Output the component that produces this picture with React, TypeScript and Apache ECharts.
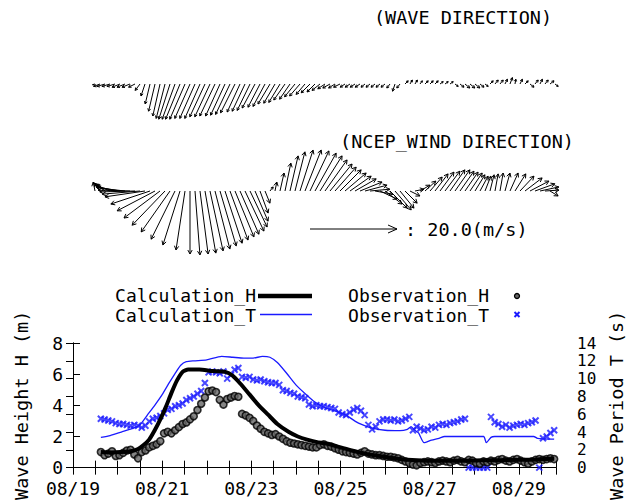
import React, { useEffect, useRef } from "react";
import * as echarts from "echarts";

const FONT = "'DejaVu Sans Mono', 'Liberation Mono', monospace";
const BLUE = "#1a1aff";

// ---- main chart axes ----
const dateLabels = ["08/19", "08/21", "08/23", "08/25", "08/27", "08/29"];
const X_MAX_HOURS = 260; // hours from 08/19 00:00
const LABEL_EVERY_HOURS = 48;

// ---- Calculation_H (m) ----
const calcHHours = [15, 20, 26, 31, 35, 38, 41, 44, 47, 50, 53, 56, 59, 62, 68, 75, 82, 86, 90, 95, 100, 105, 110, 116, 121, 126, 132, 138, 144, 150, 157, 165, 172, 180, 190, 200, 210, 220, 230, 240, 250, 259];
const calcH = [1.0, 0.98, 1.0, 1.05, 1.2, 1.45, 1.8, 2.4, 3.1, 3.9, 4.8, 5.6, 6.15, 6.3, 6.3, 6.2, 6.15, 5.9, 5.4, 4.7, 4.0, 3.4, 2.8, 2.3, 2.0, 1.8, 1.62, 1.5, 1.3, 1.1, 0.9, 0.75, 0.62, 0.5, 0.45, 0.45, 0.45, 0.47, 0.48, 0.5, 0.53, 0.57];

// ---- Calculation_T (s) ----
const calcTHours = [15, 20, 26, 32, 36, 40, 44, 48, 52, 55, 58, 61, 65, 72, 80, 86, 92, 97, 102, 106, 110, 115, 120, 125, 130, 136, 142, 147, 152, 156, 160, 168, 176, 180, 182, 184, 186, 189, 193, 197, 200, 221, 222.5, 225, 227, 248, 250, 259];
const calcT = [3.4, 3.6, 4.0, 4.4, 4.8, 5.9, 7.0, 8.2, 9.6, 10.6, 11.5, 11.9, 12.0, 12.1, 12.5, 12.4, 12.3, 12.3, 12.5, 12.4, 11.8, 10.6, 9.3, 8.3, 7.4, 6.7, 6.3, 5.9, 5.2, 4.8, 4.5, 4.2, 4.15, 4.3, 4.6, 4.2, 3.9, 2.8, 3.1, 3.3, 3.5, 3.5, 2.8, 3.4, 3.5, 3.5, 3.3, 3.2];

// ---- Observations, every 2 hours from hour 15 ----
const OBS_START_HOUR = 15;
const OBS_STEP_HOURS = 2;
const obsH = [
  1.0, 0.8, 0.9, 1.05, 0.75, 0.8, 0.95, 1.1, 1.15, 0.85,
  0.6, 1.0, 1.1, 1.3, 1.4, 1.5, 1.7, 2.2, 2.3, 2.2,
  2.4, 2.6, 2.8, 2.9, 3.1, 3.3, 3.7, 4.1, 4.5, 4.9,
  4.95, 4.85, 4.35, 4.05, 4.4, 4.5, 4.6, 4.55, 3.45, 3.35,
  3.2, 3.0, 2.7, 2.5, 2.3, 2.2, 2.1, 2.15, 2.0, 1.85,
  1.7, 1.6, 1.55, 1.5, 1.45, 1.4, 1.35, 1.3, 1.3, 1.45,
  1.5, 1.4, 1.35, 1.25, 1.15, 1.05, 1.0, 0.95, 0.9, 0.85,
  0.95, 1.05, 0.9, 0.85, 0.8, 0.8, 0.75, 0.7, 0.7, 0.65,
  0.6, 0.5, 0.4, 0.3, 0.2, 0.15, 0.3, 0.35, 0.4, 0.35,
  0.3, 0.4, 0.45, 0.4, 0.35, 0.45, 0.5, 0.4, 0.35, 0.5,
  0.45, 0.3, 0.25, 0.4, 0.35, 0.45, 0.4, 0.5, 0.55, 0.45,
  0.4, 0.5, 0.55, 0.45, 0.35, 0.25, 0.4, 0.5, 0.55, 0.5,
  0.55, 0.6, 0.55,
];
const obsT = [
  5.5, 5.4, 5.3, 5.2, 5.0, 4.9, 4.9, 4.8, 4.7, 4.8,
  4.7, 4.5, 4.7, 5.2, 5.5, 5.6, 5.8, 6.1, 6.5, 6.6,
  6.9, 7.0, 7.2, 7.6, 7.8, 8.0, 8.3, 8.6, 9.5, 10.7,
  10.8, 10.7, 10.6, 10.8, 10.0, 10.4, 11.0, 11.2, 10.2, 10.1,
  10.2, 9.9, 9.8, 9.9, 9.7, 9.6, 9.5, 9.5, 9.3, 8.7,
  8.6, 8.4, 8.3, 8.0, 7.9, 7.8, 7.1, 6.9, 7.0, 6.9,
  6.9, 6.8, 6.7, 6.6, 6.2, 6.0, 5.9, 6.2, 6.5, 6.7,
  6.4, 5.9, 4.8, 4.3, 4.6, 5.2, 5.4, 5.4, 5.3, 5.4,
  5.2, 5.3, 5.5, 5.7, 4.2, 4.6, 4.4, 4.2, 4.3, 4.6,
  4.5, 4.8, 4.9, 4.8, 5.0, 5.1, 5.2, 5.4, 5.5, 0,
  0, 0, 0, 0, 0, 5.7, 5.1, 4.9, 4.6, 4.8,
  4.5, 4.7, 4.8, 4.9, 4.8, 5.0, 5.1, 5.3, 0, 3.3,
  3.5, 3.9, 4.2,
];

// ---- wave direction vectors (east / north components, m) ----
const waveU = [
  -0.3, -0.8, -1.0, -1.0, -1.0, -1.0, -1.0, -1.0, -0.8, -0.6,
  -0.5, -0.6, -0.8, -0.9, -1.1, -1.4, -1.6, -1.8, -1.9, -1.9,
  -1.9, -1.9, -1.9, -1.9, -1.9, -1.8, -1.8, -1.8, -1.8, -1.6,
  -1.6, -1.6, -1.6, -1.5, -1.5, -1.5, -1.4, -1.4, -1.4, -1.3,
  -1.3, -1.3, -1.1, -1.1, -1.0, -1.0, -0.9, -0.9, -0.8, -0.8,
  -0.6, -0.6, -0.6, -0.6, -0.5, -0.5, -0.5, -0.5, -0.5, -0.4,
  -0.3, -0.4, 0.4, 0.3, 0.3, 0.3, 0.4, 0.4, 0.4, 0.4,
  0.4, 0.4, 0.4, 0.5, 0.6, 0.6, 0.6, 0.5, 0.4, 0.4,
  0.4, 0.4, 0.3, 0.3, 0.1, 0.3, 0.4, 0.5, 0.4, 0.3,
  0.4, 0.5, 0.4,
];
const waveV = [
  -0.1, -0.3, -0.3, -0.3, -0.3, -0.4, -0.4, -0.4, -0.4, -0.8,
  -1.5, -2.5, -3.4, -4.0, -4.3, -4.4, -4.4, -4.4, -4.4, -4.3,
  -4.3, -4.3, -4.1, -4.1, -4.0, -4.0, -3.9, -3.8, -3.6, -3.5,
  -3.4, -3.3, -3.0, -2.9, -2.8, -2.5, -2.4, -2.3, -2.0, -1.9,
  -1.6, -1.5, -1.3, -1.1, -1.0, -0.8, -0.6, -0.5, -0.5, -0.4,
  -0.4, -0.4, -0.4, -0.4, -0.4, -0.4, -0.4, -0.4, -0.4, -0.5,
  -0.9, -0.5, 0.4, 0.5, 0.5, 0.4, 0.4, 0.4, 0.4, 0.3,
  0.3, 0.3, -0.3, -0.4, -0.5, -0.5, -0.5, -0.4, -0.3, 0.4,
  0.5, 0.5, 0.6, 0.8, 0.6, 0.6, 0.4, -0.4, 0.5, 0.6,
  0.5, 0.4, -0.3,
];

// ---- NCEP wind vectors (east / north components, m/s) ----
const windU = [
  -0.4, -1.3, -2.2, -3.3, -4.2, -5.3, -6.2, -7.1, -7.8, -8.4,
  -8.9, -8.7, -8.4, -8.0, -7.3, -6.4, -5.3, -3.8, -2.0, 0.0,
  1.1, 1.8, 2.4, 2.9, 3.3, 3.6, 3.8, 4.0, 4.2, 4.2,
  4.2, 3.8, 2.9, 1.8, 1.1, 0.7, 0.4, 0.9, 1.3, 1.8,
  2.2, 2.9, 3.6, 4.2, 4.7, 4.9, 4.9, 4.9, 4.7, 4.7,
  4.7, 4.7, 4.7, 4.9, 4.9, 4.4, 4.0, 3.8, 3.8, 3.8,
  3.6, 3.1, 2.7, 2.2, 2.0, 2.2, 2.4, 2.7, 2.9, 3.1,
  3.3, 3.3, 3.3, 3.1, 2.9, 2.7, 2.2, 1.8, 1.3, 0.9,
  0.7, 0.7, 1.1, 1.8, 2.4, 3.1, 3.8, 4.2, 4.4, 4.2,
  3.1, 1.8,
];
const windV = [
  2.0, 1.8, 1.6, 1.3, 1.1, 0.9, 0.7, 0.2, -0.2, -0.7,
  -1.3, -2.9, -4.4, -6.0, -7.6, -9.1, -10.7, -12.0, -13.1, -14.0,
  -14.2, -14.0, -13.8, -13.3, -12.9, -12.2, -11.6, -10.9, -10.2, -9.6,
  -8.9, -8.0, -6.7, -4.9, -2.7, 0.9, 2.0, 4.0, 6.2, 7.8,
  8.7, 9.1, 9.1, 8.9, 8.4, 7.8, 6.9, 6.0, 5.3, 4.7,
  4.0, 3.3, 2.7, 2.0, 1.3, 0.4, -0.7, -1.8, -2.9, -3.8,
  -4.2, -3.8, -2.7, -1.1, 0.4, 1.3, 2.2, 3.1, 3.8, 4.2,
  4.4, 4.7, 4.7, 4.4, 4.2, 4.0, 3.6, 3.3, 3.3, 3.6,
  3.8, 4.0, 4.0, 4.0, 3.8, 3.3, 2.9, 2.2, 1.6, 0.9,
  0.2, -1.1,
];
const SCALE_WIND = 20.0; // m/s reference arrow

function vectorRenderer(headLen: number, width: number) {
  return (_params: any, api: any) => {
    const i = api.value(0);
    const u = api.value(1);
    const v = api.value(2);
    const base = api.coord([i, 0]);
    const unit = api.size([0, 1])[1];
    const tx = base[0] + u * unit;
    const ty = base[1] - v * unit;
    const len = Math.hypot(tx - base[0], ty - base[1]);
    const children: any[] = [
      { type: "line", shape: { x1: base[0], y1: base[1], x2: tx, y2: ty }, style: { stroke: "#000", lineWidth: width } },
    ];
    if (len > 1.5) {
      const a = Math.atan2(ty - base[1], tx - base[0]);
      const h = Math.min(headLen, len * 0.5);
      const p1 = [tx - h * Math.cos(a - 0.5), ty - h * Math.sin(a - 0.5)];
      const p2 = [tx - h * Math.cos(a + 0.5), ty - h * Math.sin(a + 0.5)];
      children.push({ type: "polyline", shape: { points: [p1, [tx, ty], p2] }, style: { stroke: "#000", fill: null, lineWidth: width } });
    }
    return { type: "group", children };
  };
}

function txt(text: string, x: number, y: number, align: string, size = 18.5, color = "#000") {
  return {
    type: "text",
    x,
    y,
    style: {
      text,
      fontSize: size,
      fontFamily: FONT,
      fill: color,
      textAlign: align,
      align,
      textVerticalAlign: "middle",
      verticalAlign: "middle",
    },
    silent: true,
  };
}

const LEGEND_ROW1 = 295;
const LEGEND_ROW2 = 315.5;

function buildOption(): any {
  const pair = (hs: number[], vs: number[]) => hs.map((h, i) => [h, vs[i]]);
  const obs = (vs: number[]) => vs.map((v, i) => [OBS_START_HOUR + i * OBS_STEP_HOURS, v]);
  const hiddenAxis = { show: false };
  const axisLine = { show: true, lineStyle: { color: "#000", width: 1 } };
  const tick = { show: true, inside: true, length: 7, lineStyle: { color: "#000", width: 1 } };
  const label = { fontFamily: FONT, fontSize: 18, color: "#000" };

  const xMain = {
    type: "value",
    min: 0,
    max: X_MAX_HOURS,
    interval: 12,
    splitLine: { show: false },
    axisLine,
    axisTick: tick,
  };

  return {
    animation: false,
    backgroundColor: "#fff",
    textStyle: { fontFamily: FONT },
    grid: [
      { left: 95, top: 44, width: 460, height: 80 },
      { left: 95, top: 146, width: 460, height: 90 },
      { left: 73, top: 343, width: 483, height: 130 },
    ],
    xAxis: [
      { gridIndex: 0, type: "value", min: 0, max: 92, ...hiddenAxis },
      { gridIndex: 1, type: "value", min: 0, max: 92, ...hiddenAxis },
      {
        ...xMain,
        gridIndex: 2,
        position: "bottom",
        axisLabel: {
          ...label,
          margin: 12,
          formatter: (v: number) => (v % LABEL_EVERY_HOURS === 0 ? dateLabels[v / LABEL_EVERY_HOURS] || "" : ""),
        },
      },
      { ...xMain, gridIndex: 2, position: "top", axisLabel: { show: false } },
    ],
    yAxis: [
      { gridIndex: 0, type: "value", min: -5, max: 5, ...hiddenAxis },
      { gridIndex: 1, type: "value", min: -10, max: 10, ...hiddenAxis },
      {
        gridIndex: 2,
        type: "value",
        min: 0,
        max: 8,
        interval: 2,
        position: "left",
        splitLine: { show: false },
        axisLine,
        axisTick: tick,
        axisLabel: { ...label, margin: 10 },
        name: "Wave Height H (m)",
        nameLocation: "middle",
        nameRotate: 90,
        nameGap: 42,
        nameTextStyle: { fontFamily: FONT, fontSize: 18.5, color: "#000" },
      },
      {
        gridIndex: 2,
        type: "value",
        min: 0,
        max: 14,
        interval: 2,
        position: "right",
        splitLine: { show: false },
        axisLine,
        axisTick: tick,
        axisLabel: { ...label, fontSize: 16, lineHeight: 16, margin: 21 },
        name: "Wave Period T (s)",
        nameLocation: "middle",
        nameRotate: 90,
        nameGap: 39,
        nameTextStyle: { fontFamily: FONT, fontSize: 18.5, color: "#000" },
      },
    ],
    series: [
      {
        name: "Wave direction",
        type: "custom",
        xAxisIndex: 0,
        yAxisIndex: 0,
        renderItem: vectorRenderer(3, 1),
        data: waveU.map((u, i) => [i, u, waveV[i]]),
        silent: true,
      },
      {
        name: "NCEP wind direction",
        type: "custom",
        xAxisIndex: 1,
        yAxisIndex: 1,
        renderItem: vectorRenderer(4.5, 1),
        data: windU.map((u, i) => [i, u, windV[i]]),
        silent: true,
      },
      {
        name: "Calculation_T",
        type: "line",
        xAxisIndex: 2,
        yAxisIndex: 3,
        showSymbol: false,
        smooth: 0.2,
        lineStyle: { color: BLUE, width: 1.3 },
        data: pair(calcTHours, calcT),
      },
      {
        name: "Observation_T",
        type: "scatter",
        xAxisIndex: 2,
        yAxisIndex: 3,
        symbol: "path://M0,0L10,10M10,0L0,10",
        symbolSize: 6,
        itemStyle: { color: "none", borderColor: BLUE, borderWidth: 2 },
        data: obs(obsT),
      },
      {
        name: "Observation_H",
        type: "scatter",
        xAxisIndex: 2,
        yAxisIndex: 2,
        symbol: "circle",
        symbolSize: 7,
        itemStyle: { color: "#666", borderColor: "#000", borderWidth: 1.6 },
        data: obs(obsH),
      },
      {
        name: "Calculation_H",
        type: "line",
        xAxisIndex: 2,
        yAxisIndex: 2,
        showSymbol: false,
        smooth: 0.2,
        lineStyle: { color: "#000", width: 4 },
        data: pair(calcHHours, calcH),
      },
    ],
    graphic: [
      txt("(WAVE DIRECTION)", 463, 17, "center"),
      txt("(NCEP_WIND DIRECTION)", 457, 141, "center"),
      { type: "line", shape: { x1: 310, y1: 229, x2: 397, y2: 229 }, style: { stroke: "#000", lineWidth: 1 }, silent: true },
      { type: "polyline", shape: { points: [[388, 225], [397, 229], [388, 233]] }, style: { stroke: "#000", fill: null, lineWidth: 1 }, silent: true },
      txt(": " + SCALE_WIND.toFixed(1) + "(m/s)", 405, 229, "left"),
      txt("Calculation_H", 256, LEGEND_ROW1, "right", 18),
      { type: "line", shape: { x1: 258, y1: LEGEND_ROW1 + 1, x2: 312, y2: LEGEND_ROW1 + 1 }, style: { stroke: "#000", lineWidth: 4.5 }, silent: true },
      txt("Observation_H", 489, LEGEND_ROW1, "right", 18),
      { type: "circle", shape: { cx: 517, cy: LEGEND_ROW1 + 1, r: 2.5 }, style: { fill: "#666", stroke: "#000", lineWidth: 1.3 }, silent: true },
      txt("Calculation_T", 256, LEGEND_ROW2, "right", 18),
      { type: "line", shape: { x1: 260, y1: LEGEND_ROW2 - 1, x2: 312, y2: LEGEND_ROW2 - 1 }, style: { stroke: BLUE, lineWidth: 1.3 }, silent: true },
      txt("Observation_T", 489, LEGEND_ROW2, "right", 18),
      { type: "line", shape: { x1: 514.5, y1: LEGEND_ROW2 - 3.5, x2: 519.5, y2: LEGEND_ROW2 + 1.5 }, style: { stroke: BLUE, lineWidth: 2 }, silent: true },
      { type: "line", shape: { x1: 519.5, y1: LEGEND_ROW2 - 3.5, x2: 514.5, y2: LEGEND_ROW2 + 1.5 }, style: { stroke: BLUE, lineWidth: 2 }, silent: true },
    ],
  };
}

export default function App() {
  const ref = useRef<HTMLDivElement>(null);
  useEffect(() => {
    if (!ref.current) return;
    const chart = echarts.init(ref.current, null, { renderer: "svg" });
    chart.setOption(buildOption());
    return () => chart.dispose();
  }, []);
  return (
    <div
      ref={ref}
      style={{ position: "absolute", left: 0, top: 0, width: 639, height: 503, background: "#fff" }}
    />
  );
}
